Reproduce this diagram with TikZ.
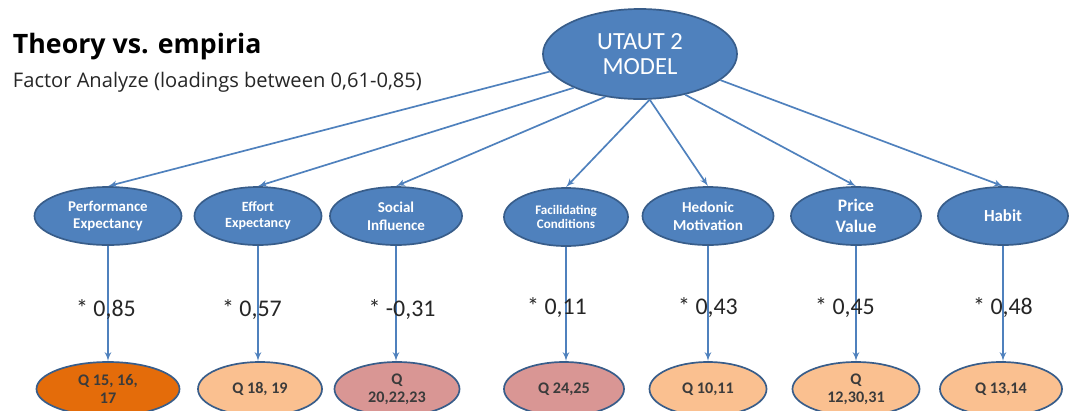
\documentclass[tikz,border=0pt]{standalone}
\usepackage{fontspec}
\setmainfont{Carlito}
\newfontfamily\headfont{Open Sans}
\usetikzlibrary{arrows,shapes.geometric}

\definecolor{ublue}{HTML}{4F81BD}
\definecolor{ublueline}{HTML}{385D8A}
\definecolor{qorange}{HTML}{E46C0A}
\definecolor{qpeach}{HTML}{FAC090}
\definecolor{qpink}{HTML}{D99694}
\definecolor{qtext}{HTML}{3B3B3B}

\begin{document}
\begin{tikzpicture}[x=0.025cm,y=-0.025cm,>=latex',
    factor/.style={ellipse,draw=ublueline,line width=1.2pt,fill=ublue,text=white,
        font=\bfseries,align=center,inner sep=0pt,minimum height=1.45cm},
    item/.style={ellipse,draw=ublueline,line width=1.2pt,text=qtext,
        font=\fontsize{11.5}{13}\selectfont\bfseries,align=center,inner sep=0pt,minimum height=1.35cm},
    link/.style={->,draw=ublue,line width=1.2pt},
    load/.style={font=\fontsize{17}{18}\selectfont,text=black!85}]
    \clip (0,0) rectangle (1091,410);
    \fill[white] (0,0) rectangle (1091,410);

    \node[anchor=west,font=\headfont\bfseries\fontsize{19}{21}\selectfont] (title) at (8,47) {Theory vs. empiria};
    \node[anchor=west,font=\headfont\fontsize{14.3}{16}\selectfont,text=black!85] (sub) at (8,82) {Factor Analyze (loadings between 0,61-0,85)};

    \node[ellipse,draw=ublueline,line width=1.2pt,fill=ublue,text=white,align=center,
        minimum width=4.85cm,minimum height=2.25cm,inner sep=0pt,
        font=\fontsize{17.5}{17.5}\selectfont] (utaut) at (640,54) {UTAUT 2\\MODEL};

    % factors
    \node[factor,minimum width=3.675cm,font=\bfseries\fontsize{10.6}{12}\selectfont] (pe) at (108,216) {Performance\\Expectancy};
    \node[factor,minimum width=3.175cm,font=\bfseries\fontsize{10}{11.5}\selectfont] (ee) at (258,216) {Effort\\Expectancy};
    \node[factor,minimum width=3.3cm,font=\bfseries\fontsize{10.7}{12.5}\selectfont] (si) at (396,216) {Social\\Influence};
    \node[factor,minimum width=3.1cm,font=\bfseries\fontsize{9.3}{10.5}\selectfont] (fc) at (566,217) {Facilidating\\Conditions};
    \node[factor,minimum width=3.275cm,font=\bfseries\fontsize{10.8}{13}\selectfont] (hm) at (708,216) {Hedonic\\Motivation};
    \node[factor,minimum width=3.25cm,font=\bfseries\fontsize{12.5}{15}\selectfont] (pv) at (856,216) {Price\\Value};
    \node[factor,minimum width=3.25cm,font=\bfseries\fontsize{12}{14}\selectfont] (hb) at (1003,216) {Habit};

    % items
    \node[item,fill=qorange,minimum width=3.575cm] (q1) at (108,389) {Q 15, 16,\\17};
    \node[item,fill=qpeach,minimum width=3.1cm] (q2) at (260,389) {Q 18, 19};
    \node[item,fill=qpink,minimum width=3.125cm] (q3) at (397,389) {Q\\20,22,23};
    \node[item,fill=qpink,minimum width=3.0cm] (q4) at (564,389) {Q 24,25};
    \node[item,fill=qpeach,minimum width=2.925cm] (q5) at (708,389) {Q 10,11};
    \node[item,fill=qpeach,minimum width=3.175cm] (q6) at (856,389) {Q\\12,30,31};
    \node[item,fill=qpeach,minimum width=3.05cm] (q7) at (1001,389) {Q 13,14};

    % model to factors
    \draw[link] (utaut.191) -- (pe.north);
    \draw[link] (utaut.207) -- (ee.north);
    \draw[link] (utaut.231) -- (si.north);
    \draw[link] (utaut.282) -- (fc.north);
    \draw[link] (utaut.282) -- (hm.north);
    \draw[link] (utaut.318) -- (pv.north);
    \draw[link] (utaut.342) -- (hb.north);

    % factors to items
    \foreach \f/\q in {pe/q1,ee/q2,si/q3,fc/q4,hm/q5,pv/q6,hb/q7}
        \draw[link] (\f.south) -- (\f.south |- \q.north);

    \node[load] (l1) at (106,310) {* 0,85};
    \node[load] (l2) at (252,310) {* 0,57};
    \node[load] (l3) at (402,310) {* -0,31};
    \node[load] (l4) at (557,308) {* 0,11};
    \node[load] (l5) at (708,308) {* 0,43};
    \node[load] (l6) at (845,308) {* 0,45};
    \node[load] (l7) at (1003,308) {* 0,48};
\end{tikzpicture}
\end{document}
